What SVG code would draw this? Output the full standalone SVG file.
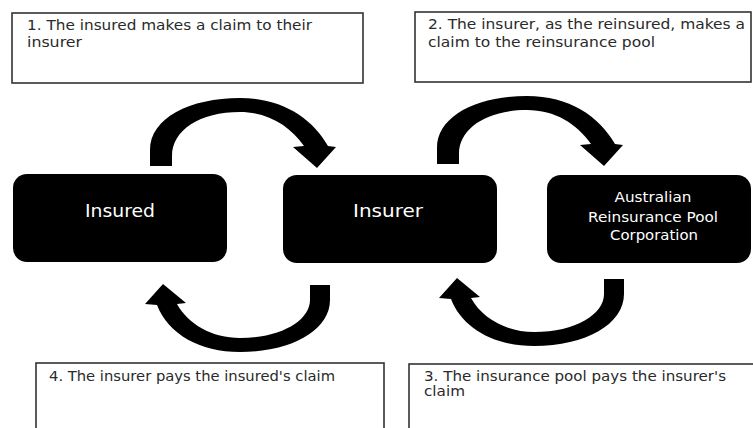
<svg xmlns="http://www.w3.org/2000/svg" width="753" height="428" viewBox="0 0 753 428">
<style>
.note rect{fill:#fff;stroke:#333;stroke-width:1.6}
.note text{font-family:"DejaVu Sans","Liberation Sans",sans-serif;font-size:13.5px;fill:#2a2a2a}
.node rect{fill:#000}
.node text{font-family:"DejaVu Sans","Liberation Sans",sans-serif;font-size:14px;fill:#fff;text-anchor:middle}
.arrow{fill:#000}
</style>
<defs>
<path id="arcTop" d="M150,166 L150,150 C150,118 190,98 240,98 C282,98 312,118 328,146 L336,147 L317,168 L293,147 L304,146 C290,126 268,112 240,112 C200,112 172,130 172,156 L172,166 Z"/>
<path id="arcBottom" d="M330,285 L330,300 C330,330 292,352 240,352 C200,352 168,334 157,305 L145,304 L163,284 L186,303 L177,304 C188,324 212,338 240,338 C282,338 310,320 310,300 L310,285 Z"/>
</defs>
<rect width="753" height="428" fill="#fff"/>
<g id="note1" class="note">
<rect x="12" y="13" width="351" height="70"/>
<text x="27" y="30" textLength="285" lengthAdjust="spacingAndGlyphs">1. The insured makes a claim to their</text>
<text x="27" y="47" textLength="55" lengthAdjust="spacingAndGlyphs">insurer</text>
</g>
<g id="note2" class="note">
<rect x="415" y="12" width="336" height="70"/>
<text x="428" y="29" textLength="317" lengthAdjust="spacingAndGlyphs">2. The insurer, as the reinsured, makes a</text>
<text x="428" y="47" textLength="227" lengthAdjust="spacingAndGlyphs">claim to the reinsurance pool</text>
</g>
<g id="note4" class="note">
<rect x="36" y="363" width="348" height="80"/>
<text x="49" y="381" textLength="286" lengthAdjust="spacingAndGlyphs">4. The insurer pays the insured's claim</text>
</g>
<g id="note3" class="note">
<rect x="409" y="364" width="360" height="80"/>
<text x="424" y="381" textLength="302" lengthAdjust="spacingAndGlyphs">3. The insurance pool pays the insurer's</text>
<text x="424" y="396" textLength="41" lengthAdjust="spacingAndGlyphs">claim</text>
</g>
<g id="insured" class="node">
<rect x="13" y="174" width="214" height="88" rx="14"/>
<text x="120" y="217" textLength="70" lengthAdjust="spacingAndGlyphs" style="font-size:17px">Insured</text>
</g>
<g id="insurer" class="node">
<rect x="283" y="175" width="214" height="88" rx="14"/>
<text x="388" y="217" textLength="70" lengthAdjust="spacingAndGlyphs" style="font-size:17px">Insurer</text>
</g>
<g id="arpc" class="node">
<rect x="547" y="175" width="204" height="88" rx="14"/>
<text x="653" y="202" textLength="77" lengthAdjust="spacingAndGlyphs">Australian</text>
<text x="653" y="222" textLength="130" lengthAdjust="spacingAndGlyphs">Reinsurance Pool</text>
<text x="654" y="240" textLength="88" lengthAdjust="spacingAndGlyphs">Corporation</text>
</g>
<g id="connectors">
<use href="#arcTop" class="arrow"/>
<use href="#arcTop" class="arrow" transform="translate(287,-2)"/>
<use href="#arcBottom" class="arrow" transform="translate(294,-6)"/>
<use href="#arcBottom" class="arrow"/>
</g>
</svg>
